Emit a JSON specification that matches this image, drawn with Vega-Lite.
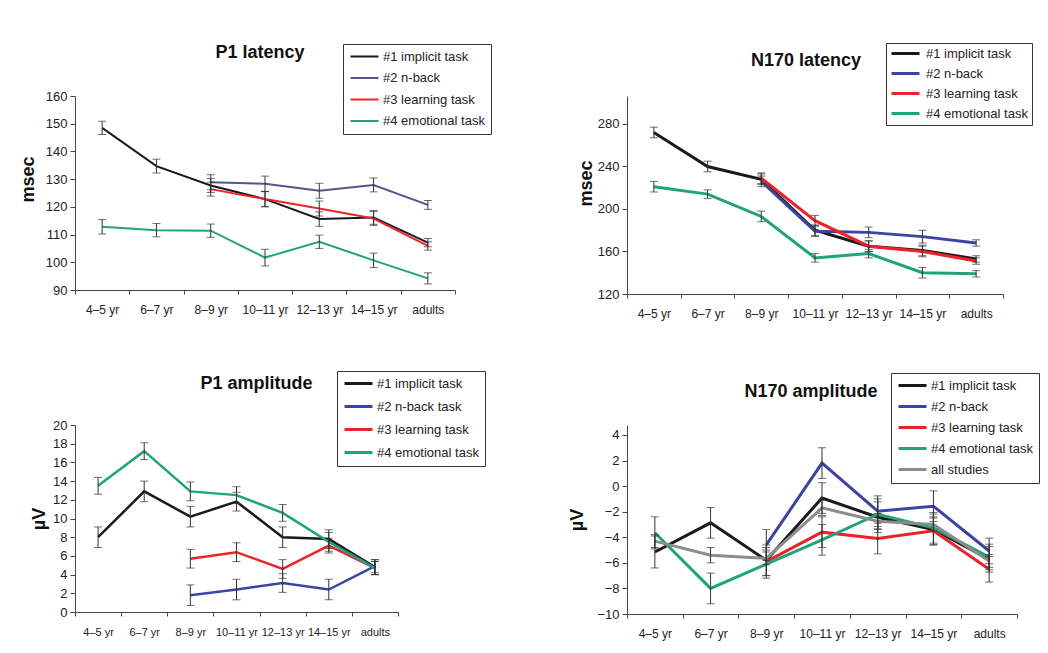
{
  "$schema": "https://vega.github.io/schema/vega-lite/v6.json",
  "padding": {"left": 19, "top": 42, "right": 5, "bottom": 5},
  "background": "white",
  "config": {
    "view": {"stroke": null},
    "font": "Liberation Sans",
    "axis": {"grid": false, "domainColor": "#444", "tickColor": "#444", "labelColor": "#222", "titleColor": "#111", "titleFontWeight": "bold", "titleFontSize": 18},
    "axisX": {"labelAngle": 0, "labelFontSize": 12, "tickSize": 4, "labelPadding": 10, "tickBand": "extent", "title": null},
    "axisY": {"labelFontSize": 13, "tickSize": 5, "labelPadding": 3},
    "legend": {"orient": "none", "strokeColor": "#333", "fillColor": "white", "padding": 6, "symbolType": "M-1,0H4.6", "symbolStrokeWidth": 3, "symbolSize": 100, "labelFontSize": 13, "labelColor": "#222", "title": null, "rowPadding": 9, "labelOffset": 21},
    "title": {"fontSize": 18, "fontWeight": "bold", "color": "#111", "frame": "group", "anchor": "middle"}
  },
  "datasets": {
    "p1lat": [
      {"age": "4–5 yr", "task": "#1 implicit task", "v": 148.5, "e": 2.4},
      {"age": "6–7 yr", "task": "#1 implicit task", "v": 134.7, "e": 2.5},
      {"age": "8–9 yr", "task": "#1 implicit task", "v": 127.7, "e": 2.5},
      {"age": "10–11 yr", "task": "#1 implicit task", "v": 122.8, "e": 2.8},
      {"age": "12–13 yr", "task": "#1 implicit task", "v": 115.6, "e": 2.6},
      {"age": "14–15 yr", "task": "#1 implicit task", "v": 116.2, "e": 2.5},
      {"age": "adults", "task": "#1 implicit task", "v": 107.1, "e": 1.5},
      {"age": "8–9 yr", "task": "#2 n-back", "v": 128.9, "e": 2.7},
      {"age": "10–11 yr", "task": "#2 n-back", "v": 128.3, "e": 2.8},
      {"age": "12–13 yr", "task": "#2 n-back", "v": 125.8, "e": 2.7},
      {"age": "14–15 yr", "task": "#2 n-back", "v": 127.9, "e": 2.5},
      {"age": "adults", "task": "#2 n-back", "v": 120.7, "e": 1.6},
      {"age": "8–9 yr", "task": "#3 learning task", "v": 126.4, "e": 2.5},
      {"age": "10–11 yr", "task": "#3 learning task", "v": 122.8, "e": 2.7},
      {"age": "12–13 yr", "task": "#3 learning task", "v": 119.4, "e": 2.7},
      {"age": "14–15 yr", "task": "#3 learning task", "v": 115.8, "e": 2.5},
      {"age": "adults", "task": "#3 learning task", "v": 105.9, "e": 1.5},
      {"age": "4–5 yr", "task": "#4 emotional task", "v": 112.8, "e": 2.6},
      {"age": "6–7 yr", "task": "#4 emotional task", "v": 111.6, "e": 2.4},
      {"age": "8–9 yr", "task": "#4 emotional task", "v": 111.4, "e": 2.4},
      {"age": "10–11 yr", "task": "#4 emotional task", "v": 101.7, "e": 3.0},
      {"age": "12–13 yr", "task": "#4 emotional task", "v": 107.4, "e": 2.4},
      {"age": "14–15 yr", "task": "#4 emotional task", "v": 100.7, "e": 2.6},
      {"age": "adults", "task": "#4 emotional task", "v": 94.2, "e": 2.0}
    ],
    "n170lat": [
      {"age": "4–5 yr", "task": "#1 implicit task", "v": 272, "e": 5},
      {"age": "6–7 yr", "task": "#1 implicit task", "v": 240, "e": 5},
      {"age": "8–9 yr", "task": "#1 implicit task", "v": 228, "e": 5},
      {"age": "10–11 yr", "task": "#1 implicit task", "v": 180, "e": 5},
      {"age": "12–13 yr", "task": "#1 implicit task", "v": 165, "e": 5},
      {"age": "14–15 yr", "task": "#1 implicit task", "v": 161, "e": 5},
      {"age": "adults", "task": "#1 implicit task", "v": 153, "e": 3},
      {"age": "8–9 yr", "task": "#2 n-back", "v": 226, "e": 5},
      {"age": "10–11 yr", "task": "#2 n-back", "v": 179, "e": 5},
      {"age": "12–13 yr", "task": "#2 n-back", "v": 178, "e": 5},
      {"age": "14–15 yr", "task": "#2 n-back", "v": 174, "e": 6},
      {"age": "adults", "task": "#2 n-back", "v": 168, "e": 3},
      {"age": "8–9 yr", "task": "#3 learning task", "v": 229, "e": 5},
      {"age": "10–11 yr", "task": "#3 learning task", "v": 189, "e": 5},
      {"age": "12–13 yr", "task": "#3 learning task", "v": 165, "e": 5},
      {"age": "14–15 yr", "task": "#3 learning task", "v": 160, "e": 5},
      {"age": "adults", "task": "#3 learning task", "v": 151, "e": 3},
      {"age": "4–5 yr", "task": "#4 emotional task", "v": 221, "e": 5},
      {"age": "6–7 yr", "task": "#4 emotional task", "v": 214, "e": 4},
      {"age": "8–9 yr", "task": "#4 emotional task", "v": 193, "e": 5},
      {"age": "10–11 yr", "task": "#4 emotional task", "v": 154, "e": 4},
      {"age": "12–13 yr", "task": "#4 emotional task", "v": 158, "e": 4},
      {"age": "14–15 yr", "task": "#4 emotional task", "v": 140, "e": 5},
      {"age": "adults", "task": "#4 emotional task", "v": 139, "e": 3}
    ],
    "p1amp": [
      {"age": "4–5 yr", "task": "#1 implicit task", "v": 8.0, "e": 1.1},
      {"age": "6–7 yr", "task": "#1 implicit task", "v": 12.9, "e": 1.1},
      {"age": "8–9 yr", "task": "#1 implicit task", "v": 10.2, "e": 1.1},
      {"age": "10–11 yr", "task": "#1 implicit task", "v": 11.8, "e": 1.0},
      {"age": "12–13 yr", "task": "#1 implicit task", "v": 8.0, "e": 1.1},
      {"age": "14–15 yr", "task": "#1 implicit task", "v": 7.8, "e": 1.0},
      {"age": "adults", "task": "#1 implicit task", "v": 4.8, "e": 0.8},
      {"age": "8–9 yr", "task": "#2 n-back task", "v": 1.8, "e": 1.1},
      {"age": "10–11 yr", "task": "#2 n-back task", "v": 2.4, "e": 1.1},
      {"age": "12–13 yr", "task": "#2 n-back task", "v": 3.1, "e": 1.0},
      {"age": "14–15 yr", "task": "#2 n-back task", "v": 2.4, "e": 1.1},
      {"age": "adults", "task": "#2 n-back task", "v": 4.9, "e": 0.7},
      {"age": "8–9 yr", "task": "#3 learning task", "v": 5.7, "e": 1.0},
      {"age": "10–11 yr", "task": "#3 learning task", "v": 6.4, "e": 1.0},
      {"age": "12–13 yr", "task": "#3 learning task", "v": 4.6, "e": 1.0},
      {"age": "14–15 yr", "task": "#3 learning task", "v": 7.1, "e": 0.8},
      {"age": "adults", "task": "#3 learning task", "v": 4.7, "e": 0.7},
      {"age": "4–5 yr", "task": "#4 emotional task", "v": 13.5, "e": 0.9},
      {"age": "6–7 yr", "task": "#4 emotional task", "v": 17.2, "e": 0.9},
      {"age": "8–9 yr", "task": "#4 emotional task", "v": 12.9, "e": 1.0},
      {"age": "10–11 yr", "task": "#4 emotional task", "v": 12.5, "e": 0.9},
      {"age": "12–13 yr", "task": "#4 emotional task", "v": 10.6, "e": 0.9},
      {"age": "14–15 yr", "task": "#4 emotional task", "v": 7.5, "e": 1.0},
      {"age": "adults", "task": "#4 emotional task", "v": 4.7, "e": 0.7}
    ],
    "n170amp": [
      {"age": "4–5 yr", "task": "#1 implicit task", "v": -5.15, "e": 1.25},
      {"age": "6–7 yr", "task": "#1 implicit task", "v": -2.87, "e": 1.2},
      {"age": "8–9 yr", "task": "#1 implicit task", "v": -5.8, "e": 1.2},
      {"age": "10–11 yr", "task": "#1 implicit task", "v": -0.93, "e": 1.2},
      {"age": "12–13 yr", "task": "#1 implicit task", "v": -2.43, "e": 1.2},
      {"age": "14–15 yr", "task": "#1 implicit task", "v": -3.39, "e": 1.2},
      {"age": "adults", "task": "#1 implicit task", "v": -5.72, "e": 1.0},
      {"age": "8–9 yr", "task": "#2 n-back", "v": -4.6, "e": 1.2},
      {"age": "10–11 yr", "task": "#2 n-back", "v": 1.8, "e": 1.2},
      {"age": "12–13 yr", "task": "#2 n-back", "v": -1.96, "e": 1.2},
      {"age": "14–15 yr", "task": "#2 n-back", "v": -1.57, "e": 1.2},
      {"age": "adults", "task": "#2 n-back", "v": -5.07, "e": 1.0},
      {"age": "8–9 yr", "task": "#3 learning task", "v": -5.9, "e": 1.1},
      {"age": "10–11 yr", "task": "#3 learning task", "v": -3.6, "e": 1.2},
      {"age": "12–13 yr", "task": "#3 learning task", "v": -4.1, "e": 1.2},
      {"age": "14–15 yr", "task": "#3 learning task", "v": -3.5, "e": 1.1},
      {"age": "adults", "task": "#3 learning task", "v": -6.5, "e": 1.0},
      {"age": "4–5 yr", "task": "#4 emotional task", "v": -3.65, "e": 1.25},
      {"age": "6–7 yr", "task": "#4 emotional task", "v": -8.0, "e": 1.2},
      {"age": "8–9 yr", "task": "#4 emotional task", "v": -6.1, "e": 1.1},
      {"age": "10–11 yr", "task": "#4 emotional task", "v": -4.2, "e": 1.2},
      {"age": "12–13 yr", "task": "#4 emotional task", "v": -2.2, "e": 1.2},
      {"age": "14–15 yr", "task": "#4 emotional task", "v": -3.26, "e": 1.2},
      {"age": "adults", "task": "#4 emotional task", "v": -5.54, "e": 1.0},
      {"age": "4–5 yr", "task": "all studies", "v": -4.3, "e": 0.5},
      {"age": "6–7 yr", "task": "all studies", "v": -5.4, "e": 0.6},
      {"age": "8–9 yr", "task": "all studies", "v": -5.65, "e": 0.5},
      {"age": "10–11 yr", "task": "all studies", "v": -1.7, "e": 0.6},
      {"age": "12–13 yr", "task": "all studies", "v": -2.74, "e": 0.6},
      {"age": "14–15 yr", "task": "all studies", "v": -3.0, "e": 0.5},
      {"age": "adults", "task": "all studies", "v": -5.85, "e": 0.5}
    ]
  },
  "columns": 2,
  "bounds": "flush",
  "align": {"row": "none", "column": "each"},
  "spacing": {"row": 131, "column": 172},
  "resolve": {"scale": {"color": "independent", "x": "independent", "y": "independent"}, "legend": {"color": "independent"}},
  "concat": [
    {
      "width": 380, "height": 194,
      "title": {"text": "P1 latency", "offset": -18, "dx": -5},
      "data": {"name": "p1lat"},
      "encoding": {
        "x": {"field": "age", "type": "ordinal", "scale": {"type": "band", "paddingInner": 0, "paddingOuter": 0, "domain": ["4–5 yr", "6–7 yr", "8–9 yr", "10–11 yr", "12–13 yr", "14–15 yr", "adults"]}},
        "y": {"field": "v", "type": "quantitative", "scale": {"domain": [90, 160], "nice": false, "zero": false}, "axis": {"title": "msec", "values": [90, 100, 110, 120, 130, 140, 150, 160], "titlePadding": 8, "titleY": 83}}
      },
      "layer": [
        {"mark": {"type": "line", "strokeWidth": 2},
         "encoding": {"color": {"field": "task", "type": "nominal", "scale": {"domain": ["#1 implicit task", "#2 n-back", "#3 learning task", "#4 emotional task"], "range": ["#1a1a1a", "#52578a", "#e8262b", "#1fa37a"]}, "legend": {"legendX": 268, "legendY": -52, "symbolStrokeWidth": 2, "rowPadding": 7.5}}}},
        {"mark": {"type": "errorbar", "ticks": true, "size": 8, "thickness": 1, "color": "#333"},
         "encoding": {"yError": {"field": "e"}}}
      ]
    },
    {
      "width": 376, "height": 198,
      "title": {"text": "N170 latency", "offset": -27, "dx": -9},
      "data": {"name": "n170lat"},
      "encoding": {
        "x": {"field": "age", "type": "ordinal", "scale": {"type": "band", "paddingInner": 0, "paddingOuter": 0, "domain": ["4–5 yr", "6–7 yr", "8–9 yr", "10–11 yr", "12–13 yr", "14–15 yr", "adults"]}},
        "y": {"field": "v", "type": "quantitative", "scale": {"domain": [120, 306.35], "nice": false, "zero": false}, "axis": {"title": "msec", "values": [120, 160, 200, 240, 280], "titlePadding": 2, "titleY": 87}}
      },
      "layer": [
        {"mark": {"type": "line", "strokeWidth": 3},
         "encoding": {"color": {"field": "task", "type": "nominal", "scale": {"domain": ["#1 implicit task", "#2 n-back", "#3 learning task", "#4 emotional task"], "range": ["#1a1a1a", "#3c44a3", "#ec2228", "#1fa37a"]}, "legend": {"legendX": 259, "legendY": -53, "rowPadding": 6, "padding": 4, "labelOffset": 23}}}},
        {"mark": {"type": "errorbar", "ticks": true, "size": 8, "thickness": 1, "color": "#333"},
         "encoding": {"yError": {"field": "e"}}}
      ]
    },
    {
      "width": 323, "height": 187,
      "title": {"text": "P1 amplitude", "offset": -22, "dx": 20},
      "data": {"name": "p1amp"},
      "encoding": {
        "x": {"field": "age", "type": "ordinal", "scale": {"type": "band", "paddingInner": 0, "paddingOuter": 0, "domain": ["4–5 yr", "6–7 yr", "8–9 yr", "10–11 yr", "12–13 yr", "14–15 yr", "adults"]}, "axis": {"labelFontSize": 11}},
        "y": {"field": "v", "type": "quantitative", "scale": {"domain": [0, 20], "nice": false}, "axis": {"title": "µV", "values": [0, 2, 4, 6, 8, 10, 12, 14, 16, 18, 20], "titlePadding": 4}}
      },
      "layer": [
        {"mark": {"type": "line", "strokeWidth": 2.5},
         "encoding": {"color": {"field": "task", "type": "nominal", "scale": {"domain": ["#1 implicit task", "#2 n-back task", "#3 learning task", "#4 emotional task"], "range": ["#1a1a1a", "#3c44a3", "#ec2228", "#1fa37a"]}, "legend": {"legendX": 262, "legendY": -54}}}},
        {"mark": {"type": "errorbar", "ticks": true, "size": 8, "thickness": 1, "color": "#333"},
         "encoding": {"yError": {"field": "e"}}}
      ]
    },
    {
      "width": 390, "height": 189,
      "title": {"text": "N170 amplitude", "offset": -28, "dx": -11},
      "data": {"name": "n170amp"},
      "encoding": {
        "x": {"field": "age", "type": "ordinal", "scale": {"type": "band", "paddingInner": 0, "paddingOuter": 0, "domain": ["4–5 yr", "6–7 yr", "8–9 yr", "10–11 yr", "12–13 yr", "14–15 yr", "adults"]}},
        "y": {"field": "v", "type": "quantitative", "scale": {"domain": [-10, 4.78], "nice": false, "zero": false}, "axis": {"title": "µV", "values": [-10, -8, -6, -4, -2, 0, 2, 4], "titlePadding": 10}}
      },
      "layer": [
        {"mark": {"type": "line", "strokeWidth": 3},
         "encoding": {"color": {"field": "task", "type": "nominal", "scale": {"domain": ["#1 implicit task", "#2 n-back", "#3 learning task", "#4 emotional task", "all studies"], "range": ["#1a1a1a", "#3c44a3", "#ec2228", "#1fa37a", "#8c8c8c"]}, "legend": {"legendX": 264, "legendY": -52, "rowPadding": 7}}}},
        {"mark": {"type": "errorbar", "ticks": true, "size": 8, "thickness": 1, "color": "#333"},
         "encoding": {"yError": {"field": "e"}}}
      ]
    }
  ]
}
